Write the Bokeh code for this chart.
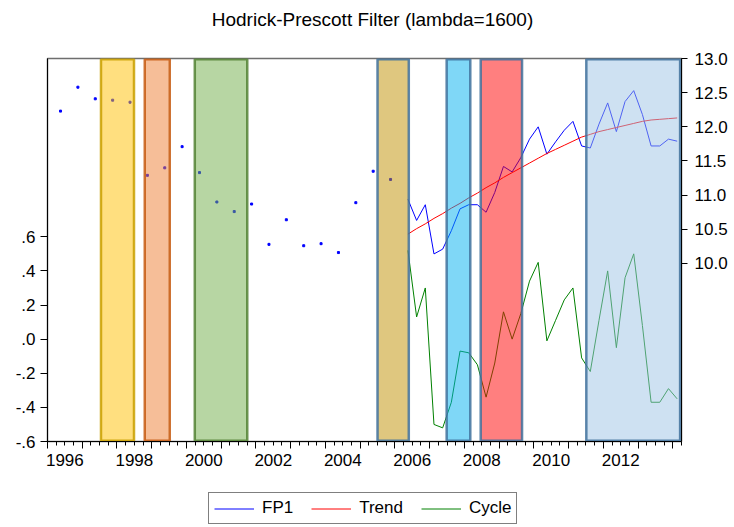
from bokeh.plotting import figure
from bokeh.layouts import column
from bokeh.models import (Range1d, LinearAxis, FixedTicker, Legend, LegendItem, Label,
                          ColumnDataSource, CustomJSTickFormatter)
from bokeh.embed import file_html
from bokeh.resources import INLINE

# ---------------- data ----------------
title_text = "Hodrick-Prescott Filter (lambda=1600)"

early_dates = ["1996Q2", "1996Q4", "1997Q2", "1997Q4", "1998Q2", "1998Q4", "1999Q2", "1999Q4",
               "2000Q2", "2000Q4", "2001Q2", "2001Q4", "2002Q2", "2002Q4", "2003Q2", "2003Q4",
               "2004Q2", "2004Q4", "2005Q2", "2005Q4"]
fp1_early = [12.23, 12.58, 12.41, 12.39, 12.36, 11.29, 11.40, 11.71,
             11.33, 10.90, 10.76, 10.87, 10.28, 10.64, 10.26, 10.29,
             10.16, 10.89, 11.35, 11.23]

q_start_year, q_start_q, n_q = 2006, 2, 32
fp1 = [10.94, 10.63, 10.86, 10.14, 10.21, 10.48, 10.80, 10.86, 10.86, 10.75, 11.04, 11.42,
       11.34, 11.55, 11.82, 12.00, 11.60, 11.78, 11.95, 12.08, 11.72, 11.69, 12.04, 12.35,
       11.93, 12.37, 12.53, 12.18, 11.72, 11.72, 11.82, 11.79]
trend = [10.43, 10.51, 10.58, 10.66, 10.73, 10.81, 10.88, 10.96, 11.03, 11.11, 11.18, 11.26,
         11.33, 11.40, 11.47, 11.54, 11.61, 11.67, 11.73, 11.79, 11.85, 11.89, 11.93, 11.96,
         11.99, 12.02, 12.05, 12.08, 12.10, 12.11, 12.12, 12.13]
cycle = [0.52, 0.13, 0.30, -0.50, -0.52, -0.37, -0.07, -0.08, -0.15, -0.34, -0.14, 0.16,
         0.00, 0.15, 0.34, 0.45, -0.01, 0.11, 0.23, 0.30, -0.11, -0.19, 0.11, 0.40,
         -0.05, 0.36, 0.50, 0.08, -0.37, -0.37, -0.29, -0.35]

# highlighted periods (decimal years)
band_start = [1997.54, 1998.80, 2000.24, 2005.50, 2007.49, 2008.47, 2011.51]
band_end   = [1998.49, 1999.52, 2001.75, 2006.40, 2008.17, 2009.66, 2014.21]
band_fill  = ["#FFC000", "#ED7D31", "#70AD47", "#BF9000", "#00B0F0", "#FF0000", "#9DC3E6"]
band_line  = ["#C9A000", "#C55A11", "#548235", "#41719C", "#41719C", "#41719C", "#41719C"]

left_ticks = [-0.6, -0.4, -0.2, 0.0, 0.2, 0.4, 0.6]
right_ticks = [10.0, 10.5, 11.0, 11.5, 12.0, 12.5, 13.0]
year_labels = [1996, 1998, 2000, 2002, 2004, 2006, 2008, 2010, 2012]
series_names = ["FP1", "Trend", "Cycle"]
series_colors = ["#0000FF", "#FF0000", "#008000"]

# ---------------- helpers ----------------
def qpos(s):
    y, q = s.split("Q")
    return int(y) + (int(q) - 1) / 4 + 0.125

xe = [qpos(d) for d in early_dates]
xq = []
y, q = q_start_year, q_start_q
for _ in range(n_q):
    xq.append(qpos(f"{y}Q{q}"))
    q += 1
    if q > 4:
        q, y = 1, y + 1

X0, X1 = 1996.0, 2014.25
YL0, YL1 = -0.6, 1.645
YR0, YR1 = 7.395, 13.0
FONT = "Liberation Sans"
TICK_FS = "17px"
W = 730

def strip(h):
    f = figure(width=W, height=h, output_backend="svg", toolbar_location=None,
               x_range=Range1d(0, 1), y_range=Range1d(0, 1),
               x_axis_type=None, y_axis_type=None,
               min_border_left=0, min_border_right=0, min_border_top=0, min_border_bottom=0)
    f.outline_line_color = None
    f.grid.visible = False
    f.background_fill_color = "white"
    f.border_fill_color = "white"
    return f

# ---------------- title strip ----------------
ts = strip(48)
ts.add_layout(Label(x=0.5, y=29.5, y_units="screen", x_offset=8, text=title_text,
                    text_font=FONT, text_font_size="19px", text_color="black",
                    text_align="center", text_baseline="middle"))

# ---------------- main plot ----------------
p = figure(width=W, height=430, output_backend="svg", toolbar_location=None,
           x_range=Range1d(X0, X1), y_range=Range1d(YL0, YL1),
           min_border_left=47, min_border_right=48, min_border_top=10, min_border_bottom=37)
p.extra_y_ranges = {"lvl": Range1d(YR0, YR1)}
p.grid.visible = False
p.outline_line_color = "#6E6E6E"
p.outline_line_width = 1.5
p.background_fill_color = "white"
p.border_fill_color = "white"

src_q = ColumnDataSource(dict(x=xq, fp1=fp1, trend=trend, cycle=cycle))
p.line("x", "fp1", source=src_q, y_range_name="lvl", line_color=series_colors[0], line_width=1)
p.scatter(xe, fp1_early, y_range_name="lvl", marker="square", size=2,
          fill_color=series_colors[0], line_color=series_colors[0])
p.line("x", "trend", source=src_q, y_range_name="lvl", line_color=series_colors[1], line_width=1)
p.line("x", "cycle", source=src_q, line_color=series_colors[2], line_width=1)

# bands (on top, semi-transparent)
bsrc = ColumnDataSource(dict(l=band_start, r=band_end, f=band_fill, c=band_line))
p.quad(left="l", right="r", bottom=YL0 + 0.005, top=YL1 - 0.005, source=bsrc,
       fill_color="f", fill_alpha=0.5, line_color="c", line_alpha=0.85, line_width=2.5)

# x axis: year / quarter ticks
xa = p.xaxis[0]
years = list(range(1996, 2015))
quarters = [X0 + i * 0.25 for i in range(int((X1 - X0) / 0.25) + 1)]
xa.ticker = FixedTicker(ticks=years, minor_ticks=quarters)
xa.formatter = CustomJSTickFormatter(code="return ' '")
xa.major_label_text_font_size = "1px"
xa.major_label_text_alpha = 0
xa.major_label_standoff = 0
xa.major_tick_out = 7
xa.major_tick_in = 0
xa.minor_tick_out = 4
xa.minor_tick_in = 0
xa.axis_line_color = "black"
xa.major_tick_line_color = "black"
xa.minor_tick_line_color = "black"

# x axis: labels centred in each year
xl = LinearAxis(ticker=FixedTicker(ticks=[yy + 0.5 for yy in year_labels]),
                formatter=CustomJSTickFormatter(code="return (tick - 0.5).toFixed(0)"))
xl.axis_line_color = None
xl.major_tick_line_color = None
xl.minor_tick_line_color = None
xl.major_tick_out = 0
xl.major_label_standoff = 5
xl.major_label_text_font = FONT
xl.major_label_text_font_size = TICK_FS
xl.major_label_text_color = "black"
p.add_layout(xl, "below")

# left axis (cycle)
ya = p.yaxis[0]
ya.ticker = FixedTicker(ticks=left_ticks)
ya.formatter = CustomJSTickFormatter(code="return tick.toFixed(1).replace('0.', '.')")
ya.major_tick_out = 7
ya.major_tick_in = 0
ya.major_label_standoff = 5
ya.major_label_text_font = FONT
ya.major_label_text_font_size = TICK_FS
ya.major_label_text_color = "black"
ya.axis_line_color = "black"

# right axis (levels)
yr = LinearAxis(y_range_name="lvl", ticker=FixedTicker(ticks=right_ticks),
                formatter=CustomJSTickFormatter(code="return tick.toFixed(1)"))
yr.major_tick_out = 6
yr.major_tick_in = 0
yr.major_label_standoff = 7
yr.major_label_text_font = FONT
yr.major_label_text_font_size = TICK_FS
yr.major_label_text_color = "black"
yr.axis_line_color = "black"
p.add_layout(yr, "right")

# ---------------- legend strip ----------------
# the series are drawn again here only to feed the legend; they fall outside this strip's range
lg = strip(49)
items = []
for name, col, vals in zip(series_names, series_colors, [fp1, trend, cycle]):
    r = lg.line(x=xq, y=vals, line_color=col, line_width=1)
    items.append(LegendItem(label=name, renderers=[r]))
legend = Legend(items=items, orientation="horizontal", location=(161, 3))
legend.label_text_font = FONT
legend.label_text_font_size = TICK_FS
legend.label_text_color = "black"
legend.glyph_width = 40
legend.glyph_height = 19
legend.label_standoff = 8
legend.spacing = 18
legend.padding = 5
legend.margin = 0
legend.border_line_color = "black"
legend.border_line_width = 1
legend.background_fill_color = "white"
legend.background_fill_alpha = 1
lg.add_layout(legend)

layout = column(ts, p, lg, spacing=0)
open("out.html", "w").write(file_html(layout, INLINE))
